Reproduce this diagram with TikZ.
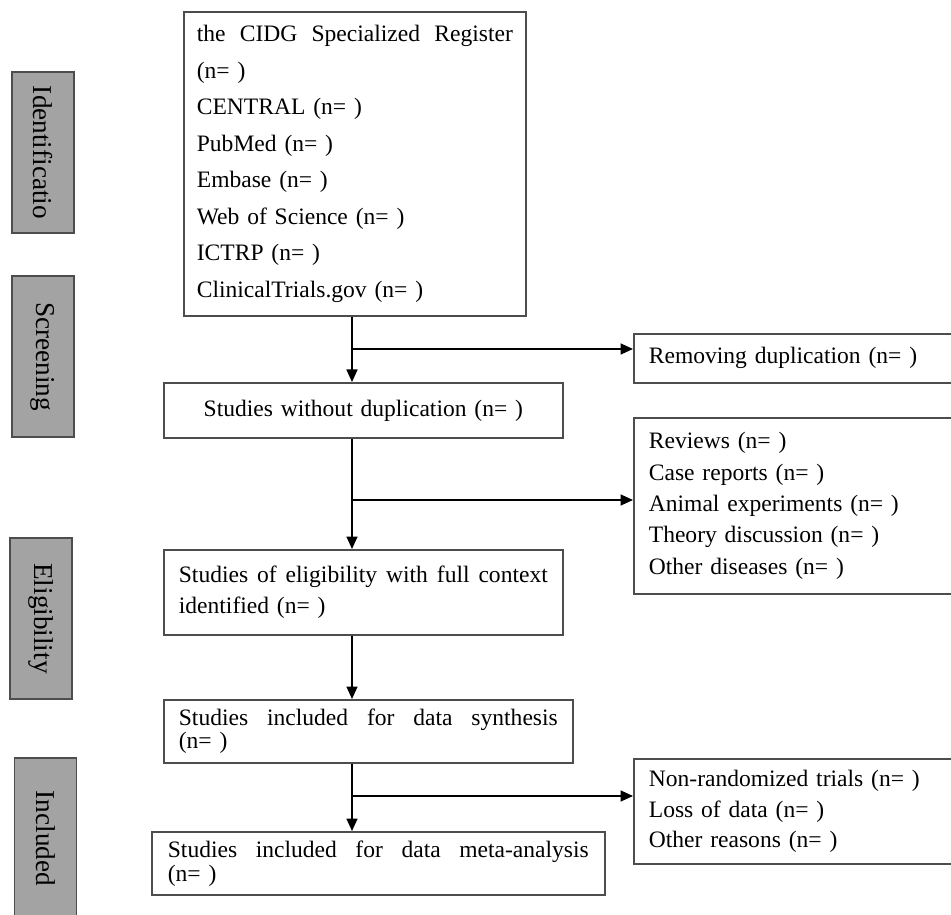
\documentclass[tikz,border=0pt]{standalone}
\usepackage{fontspec}
\setmainfont{Liberation Serif}
\usepackage{tikz}
\usetikzlibrary{arrows.meta}
\definecolor{boxline}{HTML}{4D4D4D}
\definecolor{sidefill}{HTML}{A3A3A3}

\begin{document}
\begin{tikzpicture}[
  x=0.02cm, y=-0.02cm,
  box/.style={draw=boxline, line width=1pt, anchor=north west, inner xsep=0.3cm, inner ysep=0pt, align=left, font=\fontsize{13.4}{20.8}\selectfont},
  side/.style={draw=boxline, fill=sidefill, line width=0.8pt, rotate=-90, minimum width=3.22cm, minimum height=1.24cm, inner sep=0pt, font=\fontsize{15.5}{17}\selectfont},
  arr/.style={-{Triangle[length=0.25cm, width=0.22cm]}, line width=1pt, black}
]
\useasboundingbox (0,0) rectangle (951,915);
\clip (0,0) rectangle (951,915);

\node[side] (sid) at (43,152.5) {Identificatio};
\node[side] (sscr) at (43,356.5) {Screening};
\node[side] (selig) at (41,618.5) {Eligibility};
\node[side] (sinc) at (45.5,838.5) {Included};

\node[box, inner xsep=0.26cm, text width=6.32cm, minimum height=6.08cm] (src) at (183,11) {the\hfill CIDG\hfill Specialized\hfill Register\\(n= )\\CENTRAL (n= )\\PubMed (n= )\\Embase (n= )\\Web of Science (n= )\\ICTRP (n= )\\ClinicalTrials.gov (n= )};
\node[box, text width=6.8cm, minimum height=0.98cm] (rem) at (633,333) {Removing duplication (n= )};
\node[box, align=center, text width=7.38cm, minimum height=1.1cm] (nodup) at (163,382) {Studies without duplication (n= )};
\node[box, font=\fontsize{13.4}{17.9}\selectfont, text width=6.8cm, minimum height=3.52cm] (exc1) at (633,417) {Reviews (n= )\\Case reports (n= )\\Animal experiments (n= )\\Theory discussion (n= )\\Other diseases (n= )};
\node[box, font=\fontsize{13.4}{17.6}\selectfont, text width=7.38cm, minimum height=1.7cm] (elig) at (163,549) {Studies\hfill of\hfill eligibility\hfill with\hfill full\hfill context\\identified (n= )};
\node[box, font=\fontsize{13.4}{13.1}\selectfont, text width=7.58cm, minimum height=1.26cm] (synth) at (163,699) {Studies\hfill included\hfill for\hfill data\hfill synthesis\\(n= )};
\node[box, font=\fontsize{13.4}{17.6}\selectfont, text width=6.8cm, minimum height=2.1cm] (exc2) at (633,758) {Non-randomized trials (n= )\\Loss of data (n= )\\Other reasons (n= )};
\node[box, font=\fontsize{13.4}{13.6}\selectfont, inner xsep=0.32cm, text width=8.42cm, minimum height=1.26cm] (meta) at (151,831) {Studies\hfill included\hfill for\hfill data\hfill meta-analysis\\(n= )};

\coordinate (sp) at (352,0);
\coordinate (br1) at (352,349);
\coordinate (br2) at (352,500);
\coordinate (br3) at (352,796);
\draw[arr] (src.south -| sp) -- (nodup.north -| sp);
\draw[arr] (br1) -- (rem.west |- br1);
\draw[arr] (nodup.south -| sp) -- (elig.north -| sp);
\draw[arr] (br2) -- (exc1.west |- br2);
\draw[arr] (elig.south -| sp) -- (synth.north -| sp);
\draw[arr] (synth.south -| sp) -- (meta.north -| sp);
\draw[arr] (br3) -- (exc2.west |- br3);
\end{tikzpicture}
\end{document}
